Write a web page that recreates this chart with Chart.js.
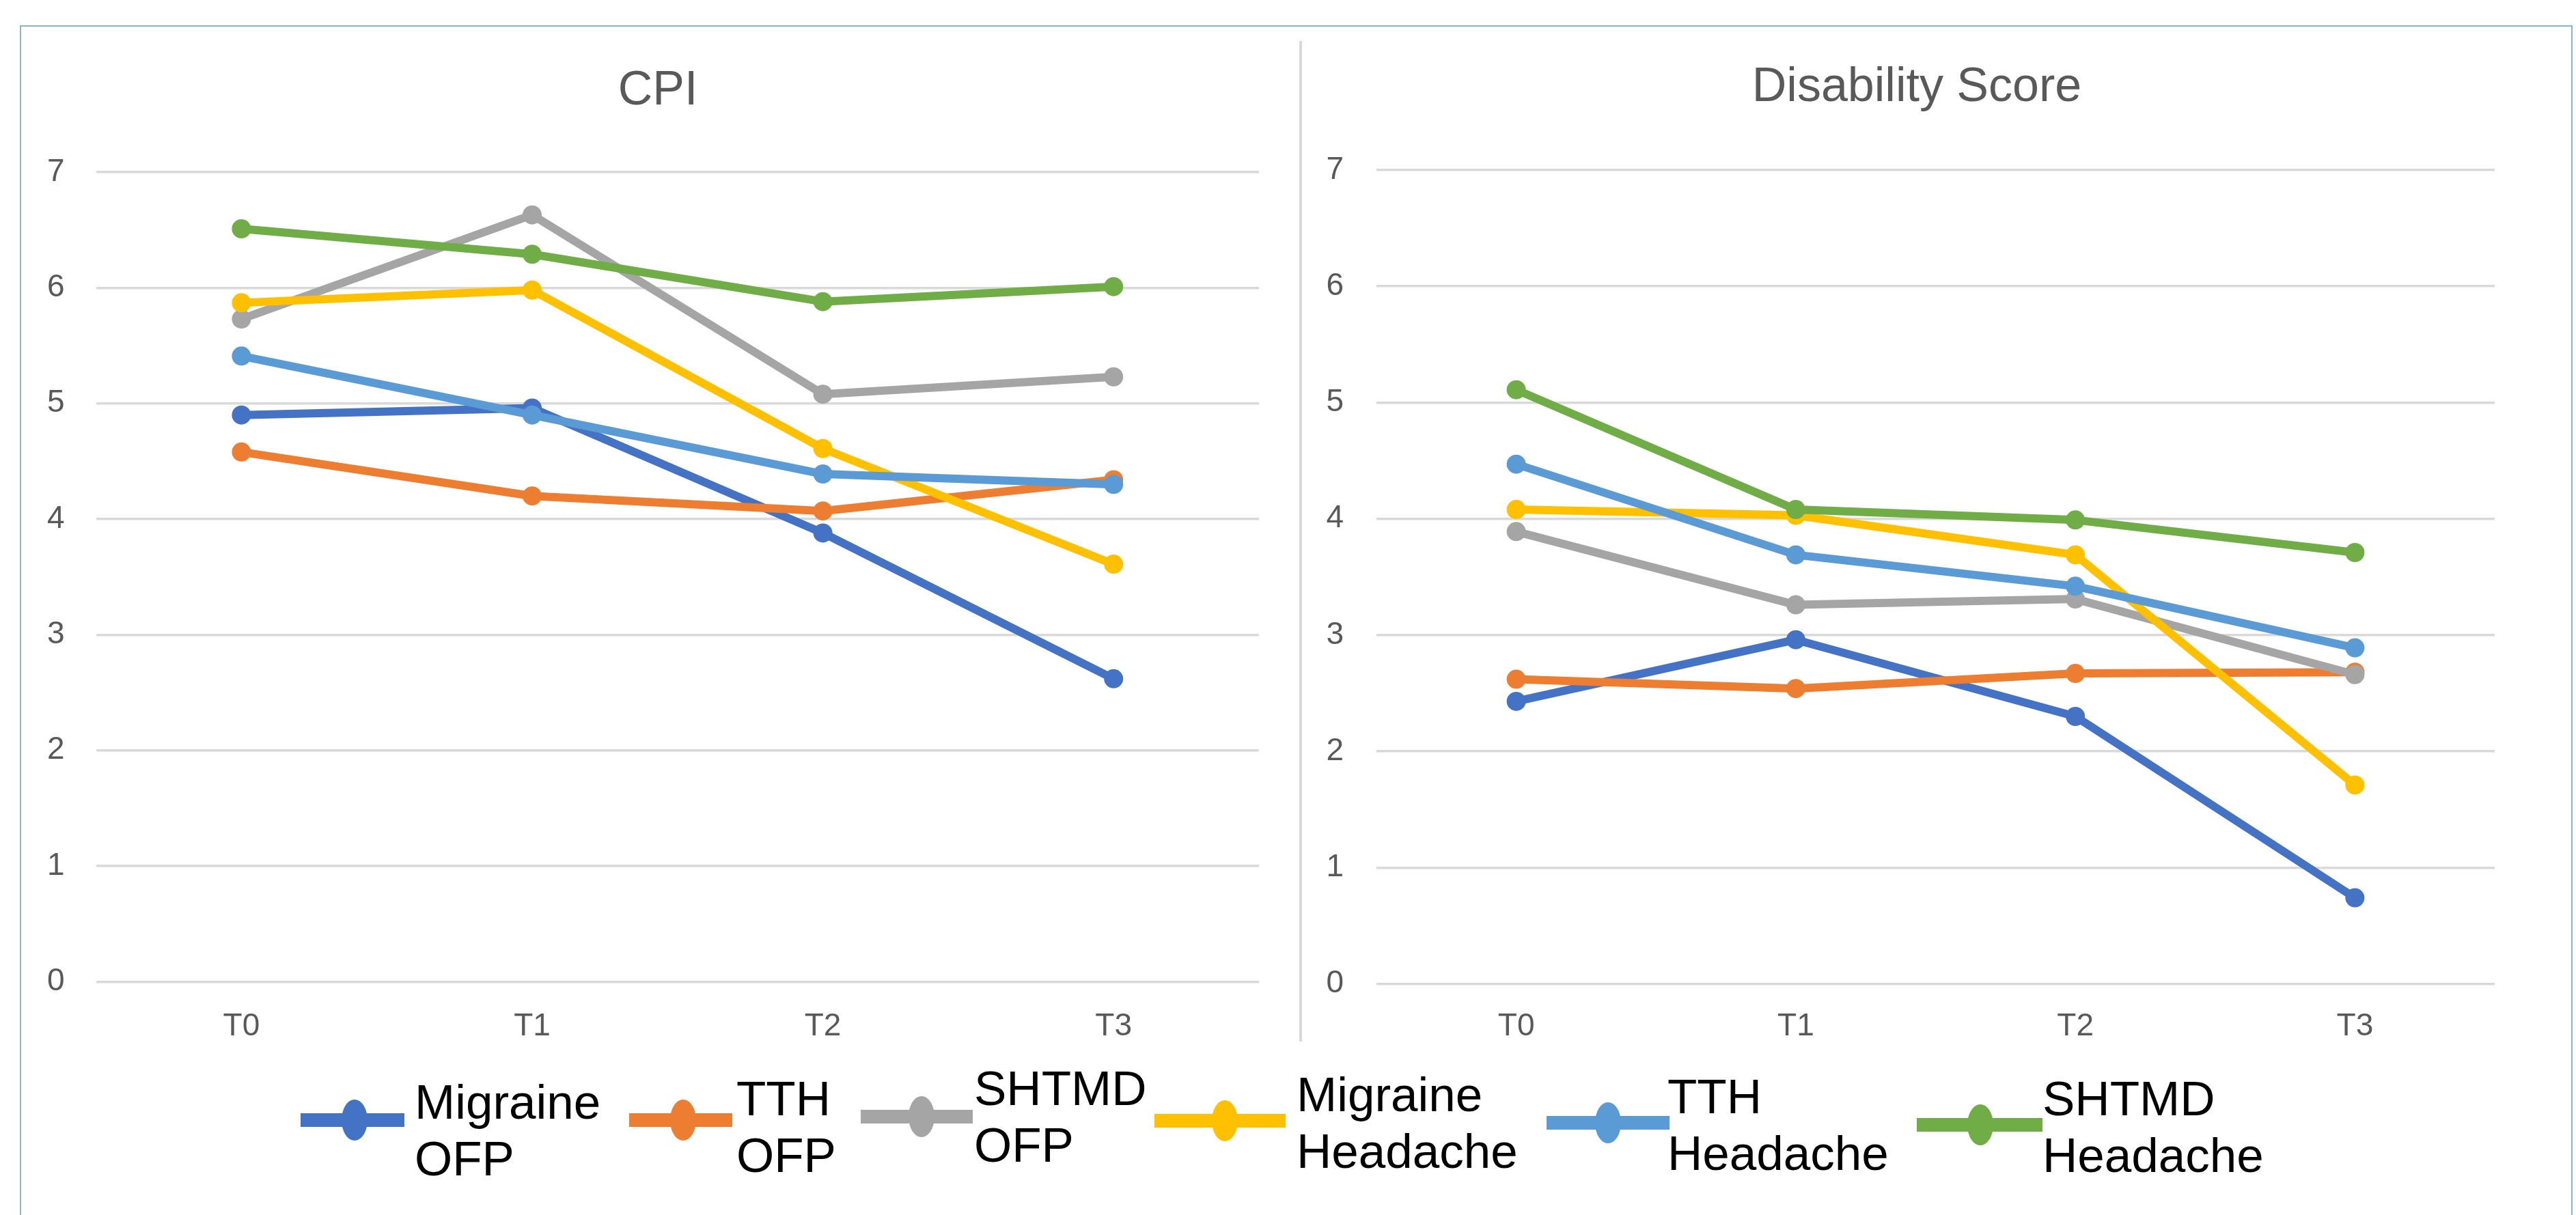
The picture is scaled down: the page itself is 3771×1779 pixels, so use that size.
<!DOCTYPE html>
<html>
<head>
<meta charset="utf-8">
<script src="https://cdn.jsdelivr.net/npm/chart.js@4.4.1/dist/chart.umd.min.js"></script>
<style>
  html, body { margin: 0; padding: 0; background: #ffffff; width: 3771px; height: 1779px; overflow: hidden; }
  #frame { position: absolute; left: 29px; top: 37px; width: 3733px; height: 2000px; border: 2px solid #86b7cb; box-sizing: content-box; }
  #divider { position: absolute; left: 1902px; top: 60px; width: 4px; height: 1465px; background: #d9d9d9; }
  canvas { position: absolute; }
  .lg-line { position: absolute; height: 20px; }
  .lg-dot { position: absolute; width: 38px; height: 60px; border-radius: 50%; }
  .lg-text { position: absolute; font-family: "Liberation Sans", Arial, sans-serif; font-size: 71px; line-height: 83px; color: #000; white-space: nowrap; }
</style>
</head>
<body>
<div id="frame"></div>
<div id="divider"></div>
<canvas id="cpi" width="1833" height="1500" style="left:30px; top:37px;"></canvas>
<canvas id="dis" width="1767" height="1500" style="left:1905px; top:37px;"></canvas>
<div id="legend"></div>
<script>
// ---- data ----
const categories = ['T0', 'T1', 'T2', 'T3'];
const seriesNames = ['Migraine OFP', 'TTH OFP', 'SHTMD OFP', 'Migraine Headache', 'TTH Headache', 'SHTMD Headache'];
const legendLines = [['Migraine', 'OFP'], ['TTH', 'OFP'], ['SHTMD', 'OFP'], ['Migraine', 'Headache'], ['TTH', 'Headache'], ['SHTMD', 'Headache']];
const seriesColors = ['#4472C4', '#ED7D31', '#A5A5A5', '#FFC000', '#5B9BD5', '#70AD47'];
const yTicks = [0, 1, 2, 3, 4, 5, 6, 7];

// CPI panel
const cpiMigraineOFP      = [4.90, 4.96, 3.88, 2.62];
const cpiTTHOFP           = [4.58, 4.20, 4.07, 4.34];
const cpiSHTMDOFP         = [5.73, 6.63, 5.08, 5.23];
const cpiMigraineHeadache = [5.87, 5.98, 4.61, 3.61];
const cpiTTHHeadache      = [5.41, 4.90, 4.39, 4.30];
const cpiSHTMDHeadache    = [6.51, 6.29, 5.88, 6.01];

// Disability Score panel
const disMigraineOFP      = [2.43, 2.96, 2.30, 0.74];
const disTTHOFP           = [2.62, 2.54, 2.67, 2.68];
const disSHTMDOFP         = [3.89, 3.26, 3.31, 2.66];
const disMigraineHeadache = [4.08, 4.03, 3.69, 1.71];
const disTTHHeadache      = [4.47, 3.69, 3.42, 2.89];
const disSHTMDHeadache    = [5.11, 4.08, 3.99, 3.71];

const cpiSeries = [cpiMigraineOFP, cpiTTHOFP, cpiSHTMDOFP, cpiMigraineHeadache, cpiTTHHeadache, cpiSHTMDHeadache];
const disSeries = [disMigraineOFP, disTTHOFP, disSHTMDOFP, disMigraineHeadache, disTTHHeadache, disSHTMDHeadache];

const FONT = '"Liberation Sans", Arial, sans-serif';

function makeDatasets(series) {
  return series.map((vals, i) => ({
    label: seriesNames[i],
    data: vals,
    borderColor: seriesColors[i],
    backgroundColor: seriesColors[i],
    pointBackgroundColor: seriesColors[i],
    pointBorderColor: seriesColors[i],
    borderWidth: 12,
    pointRadius: 14,
    pointBorderWidth: 0,
    pointHoverRadius: 14,
    borderJoinStyle: 'round',
    borderCapStyle: 'round',
    tension: 0,
    order: series.length - 1 - i
  }));
}

// shifts the title horizontally after layout
const titleShift = {
  id: 'titleShift',
  afterLayout(chart, args, opts) {
    const t = chart.titleBlock;
    if (t && opts.dx) { t.left += opts.dx; t.right += opts.dx; }
  }
};

function makeChart(id, title, series, cfg) {
  return new Chart(document.getElementById(id), {
    type: 'line',
    data: { labels: categories, datasets: makeDatasets(series) },
    plugins: [titleShift],
    options: {
      responsive: false,
      animation: false,
      devicePixelRatio: 1,
      layout: { padding: { left: 0, right: cfg.padR, top: 0, bottom: 0 } },
      plugins: {
        legend: { display: false },
        tooltip: { enabled: false },
        titleShift: { dx: cfg.titleDx },
        title: {
          display: true,
          text: title,
          color: '#595959',
          font: { family: FONT, size: 70, weight: 'normal', lineHeight: 1.2 },
          padding: { top: cfg.titleTop, bottom: cfg.titleBottom }
        }
      },
      scales: {
        x: {
          type: 'category',
          offset: true,
          grid: { display: false, drawTicks: false },
          border: { display: false },
          ticks: { color: '#595959', font: { family: FONT, size: 46 }, padding: cfg.xPad, maxRotation: 0 },
          afterFit: (s) => { s.height = cfg.xHeight; }
        },
        y: {
          min: yTicks[0],
          max: yTicks[yTicks.length - 1],
          afterBuildTicks: (s) => { s.ticks = yTicks.map(v => ({ value: v })); },
          grid: { color: '#d9d9d9', lineWidth: 3.5, drawTicks: false },
          border: { display: false },
          ticks: { color: '#595959', font: { family: FONT, size: 46 }, padding: cfg.yPad },
          afterFit: (s) => { s.width = cfg.yWidth; }
        }
      }
    }
  });
}

makeChart('cpi', 'CPI', cpiSeries, {
  padR: 20, titleTop: 54.5, titleBottom: 76.5, titleDx: 26.5,
  xHeight: 99.5, xPad: 38, yWidth: 110.6, yPad: 46
});
makeChart('dis', 'Disability Score', disSeries, {
  padR: 20, titleTop: 49.5, titleBottom: 78.5, titleDx: 27.5,
  xHeight: 96.5, xPad: 35, yWidth: 110, yPad: 48
});

// ---- legend (HTML) ----
const legendLayout = [
  { x1: 440,  x2: 592,  cx: 519,  cy: 1640, tx: 607,  ty: 1572 },
  { x1: 921,  x2: 1072, cx: 1000, cy: 1640, tx: 1078, ty: 1567 },
  { x1: 1260, x2: 1424, cx: 1349, cy: 1635, tx: 1426, ty: 1552 },
  { x1: 1690, x2: 1882, cx: 1793, cy: 1641, tx: 1898, ty: 1561 },
  { x1: 2264, x2: 2444, cx: 2354, cy: 1644, tx: 2441, ty: 1564 },
  { x1: 2806, x2: 2990, cx: 2899, cy: 1647, tx: 2990, ty: 1567 }
];
const lg = document.getElementById('legend');
legendLayout.forEach((p, i) => {
  const line = document.createElement('div');
  line.className = 'lg-line';
  line.style.left = p.x1 + 'px';
  line.style.width = (p.x2 - p.x1) + 'px';
  line.style.top = (p.cy - 10) + 'px';
  line.style.background = seriesColors[i];
  lg.appendChild(line);
  const dot = document.createElement('div');
  dot.className = 'lg-dot';
  dot.style.left = (p.cx - 19) + 'px';
  dot.style.top = (p.cy - 30) + 'px';
  dot.style.background = seriesColors[i];
  lg.appendChild(dot);
  const t = document.createElement('div');
  t.className = 'lg-text';
  t.style.left = p.tx + 'px';
  t.style.top = p.ty + 'px';
  t.innerHTML = legendLines[i][0] + '<br>' + legendLines[i][1];
  lg.appendChild(t);
});
</script>
</body>
</html>
